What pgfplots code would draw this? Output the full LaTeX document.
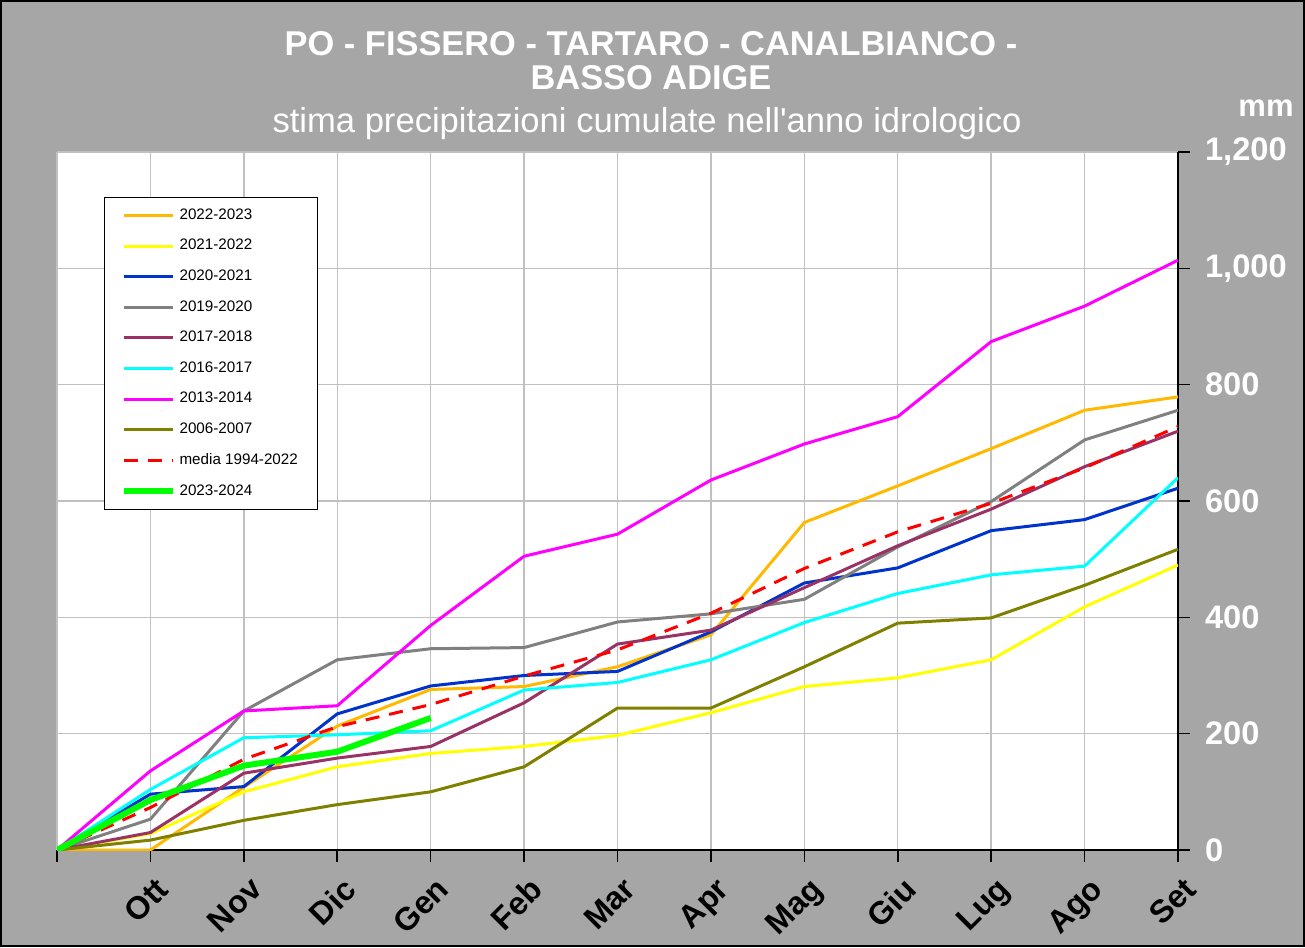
\documentclass[border=0pt]{standalone}
\usepackage{fontspec}
\setmainfont{Liberation Sans}[Ligatures=TeXOff]
\usepackage{pgfplots}
\pgfplotsset{compat=1.18}

\definecolor{bggray}{RGB}{166,166,166}
\definecolor{gridgray}{RGB}{192,192,192}
\definecolor{c2223}{RGB}{255,185,0}
\definecolor{c2122}{RGB}{255,255,0}
\definecolor{c2021}{RGB}{0,51,204}
\definecolor{c1920}{RGB}{128,128,128}
\definecolor{c1718}{RGB}{153,51,102}
\definecolor{c1617}{RGB}{0,255,255}
\definecolor{c1314}{RGB}{255,0,255}
\definecolor{c0607}{RGB}{128,128,0}
\definecolor{cmedia}{RGB}{255,0,0}
\definecolor{c2324}{RGB}{0,255,0}

\begin{document}
\begin{tikzpicture}
\useasboundingbox (0,0) rectangle (652.5pt,473.5pt);
\fill[bggray] (0,0) rectangle (652.5pt,473.5pt);
\draw[line width=1.2pt] (0.6pt,0.6pt) rectangle (651.9pt,472.9pt);

% titolo
\node[text=white, font=\bfseries\fontsize{17.2}{18}\selectfont] at (325.5pt,451.5pt) {PO - FISSERO - TARTARO - CANALBIANCO -};
\node[text=white, font=\bfseries\fontsize{17.2}{18}\selectfont] at (325.5pt,434.5pt) {BASSO ADIGE};
\node[text=white, font=\fontsize{17.3}{19}\selectfont] at (323.5pt,411.5pt) {stima precipitazioni cumulate nell'anno idrologico};
\node[text=white, font=\bfseries\fontsize{15.5}{16}\selectfont] at (633pt,419.5pt) {mm};

\begin{axis}[
    at={(28.5pt,48.5pt)}, anchor=south west,
    scale only axis, width=560.5pt, height=349pt,
    xmin=0, xmax=12, ymin=0, ymax=1200,
    axis background/.style={fill=white},
    axis x line*=bottom, axis y line*=right,
    axis line style={line width=1pt, black, -},
    grid=major,
    major grid style={gridgray, line width=0.7pt},
    tick align=outside,
    major tick length=6pt,
    tick style={black, line width=0.8pt},
    xtick={0,...,12},
    xticklabels={,Ott,Nov,Dic,Gen,Feb,Mar,Apr,Mag,Giu,Lug,Ago,Set},
    xticklabel style={rotate=45, anchor=north east, xshift=3pt,
        font=\bfseries\fontsize{16}{16}\selectfont},
    xticklabel shift=4pt,
    ytick={0,200,...,1200},
    yticklabel style={text=white, anchor=west,
        font=\bfseries\fontsize{16.3}{16}\selectfont},
    yticklabel shift=4pt,
    /pgf/number format/.cd, 1000 sep={,}, assume math mode=true,
    /pgfplots/.cd,
    legend cell align=left,
    legend image code/.code={\draw[#1] (0pt,0pt) -- (24.5pt,0pt);},
    legend style={at={(0.0419,0.9355)}, anchor=north west,
        draw=black, line width=0.6pt, fill=white,
        font=\fontsize{7.6}{8}\selectfont,
        inner xsep=8pt, inner ysep=3.5pt, row sep=4.5pt},
]

\addplot[c2223, line width=1.5pt] coordinates {
    (0,0) (1,0) (2,108) (3,213) (4,276) (5,281) (6,315) (7,370) (8,563) (9,626) (10,690) (11,756) (12,779)};
\addlegendentry{2022-2023}

\addplot[c2122, line width=1.5pt] coordinates {
    (0,0) (1,28) (2,100) (3,143) (4,166) (5,178) (6,197) (7,236) (8,281) (9,296) (10,327) (11,418) (12,490)};
\addlegendentry{2021-2022}

\addplot[c2021, line width=1.5pt] coordinates {
    (0,0) (1,96) (2,109) (3,234) (4,282) (5,300) (6,307) (7,375) (8,459) (9,485) (10,549) (11,568) (12,622)};
\addlegendentry{2020-2021}

\addplot[c1920, line width=1.5pt] coordinates {
    (0,0) (1,53) (2,239) (3,327) (4,346) (5,348) (6,392) (7,406) (8,431) (9,521) (10,599) (11,705) (12,756)};
\addlegendentry{2019-2020}

\addplot[c1718, line width=1.5pt] coordinates {
    (0,0) (1,30) (2,132) (3,158) (4,178) (5,253) (6,354) (7,378) (8,451) (9,523) (10,586) (11,659) (12,720)};
\addlegendentry{2017-2018}

\addplot[c1617, line width=1.5pt] coordinates {
    (0,0) (1,104) (2,193) (3,198) (4,205) (5,275) (6,288) (7,327) (8,391) (9,441) (10,473) (11,488) (12,640)};
\addlegendentry{2016-2017}

\addplot[c1314, line width=1.5pt] coordinates {
    (0,0) (1,136) (2,239) (3,248) (4,386) (5,505) (6,543) (7,636) (8,698) (9,745) (10,874) (11,935) (12,1014)};
\addlegendentry{2013-2014}

\addplot[c0607, line width=1.5pt] coordinates {
    (0,0) (1,17) (2,51) (3,78) (4,100) (5,143) (6,244) (7,244) (8,315) (9,390) (10,399) (11,455) (12,517)};
\addlegendentry{2006-2007}

\addplot[cmedia, line width=1.5pt, dash pattern=on 7pt off 5pt] coordinates {
    (0,0) (1,73) (2,156) (3,212) (4,250) (5,299) (6,344) (7,407) (8,484) (9,547) (10,596) (11,657) (12,728)};
\addlegendentry{media 1994-2022}

\addplot[c2324, line width=3pt] coordinates {
    (0,0) (1,86) (2,145) (3,169) (4,227)};
\addlegendentry{2023-2024}

\end{axis}
\end{tikzpicture}
\end{document}
